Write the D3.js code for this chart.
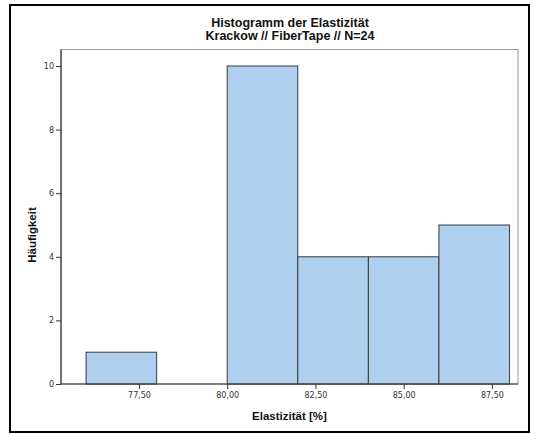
<!DOCTYPE html>
<html><head><meta charset="utf-8">
<script src="https://cdn.jsdelivr.net/npm/d3@7"></script>
<style>body{margin:0;background:#fff}</style>
</head><body>
<script>
const binStarts = [76, 78, 80, 82, 84, 86];
const binWidth = 2;
const counts = [1, 0, 10, 4, 4, 5];
const xTicks = [77.5, 80, 82.5, 85, 87.5];
const yTicks = [0, 2, 4, 6, 8, 10];
const titleLines = ["Histogramm der Elastizität", "Krackow // FiberTape // N=24"];
const xLabel = "Elastizität [%]";
const yLabel = "Häufigkeit";

const W = 539, H = 434;
const svg = d3.select("body").append("svg").attr("width", W).attr("height", H);
const font = "Liberation Sans, Arial, sans-serif";

// outer frame
svg.append("rect").attr("x", 10).attr("y", 5).attr("width", 519).attr("height", 427)
  .attr("fill", "none").attr("stroke", "#000").attr("stroke-width", 2);

const L = 61, R = 518, T = 49.5, B = 384;
const x = d3.scaleLinear().domain([75.29, 88.24]).range([L, R]);
const y = d3.scaleLinear().domain([0, 10]).range([B, 66]);

// plot box
svg.append("rect").attr("x", L).attr("y", T).attr("width", R - L).attr("height", B - T)
  .attr("fill", "#fff").attr("stroke", "#9a9a9a").attr("stroke-width", 1);

// bars
svg.append("g").selectAll("rect").data(binStarts.map((s, i) => ({s, c: counts[i]})).filter(d => d.c > 0))
  .join("rect")
  .attr("x", d => x(d.s)).attr("width", d => x(d.s + binWidth) - x(d.s))
  .attr("y", d => y(d.c)).attr("height", d => y(0) - y(d.c))
  .attr("fill", "#aecfee").attr("stroke", "#3a3a3a").attr("stroke-width", 1);

// axes
const fmt = d3.format(".2f");
const xAxis = svg.append("g").attr("transform", `translate(0,${B})`)
  .call(d3.axisBottom(x).tickValues(xTicks).tickSize(5).tickPadding(3)
    .tickFormat(d => fmt(d).replace(".", ",")));
const yAxis = svg.append("g").attr("transform", `translate(${L},0)`)
  .call(d3.axisLeft(y).tickValues(yTicks).tickSize(5).tickPadding(2));
[xAxis, yAxis].forEach(a => {
  a.select(".domain").attr("stroke", "#333").attr("stroke-width", 1.2);
  a.selectAll(".tick line").attr("stroke", "#333");
  a.selectAll(".tick text").attr("fill", "#333").attr("font-family", "DejaVu Sans, sans-serif").attr("font-size", 8);
});
xAxis.select(".domain").attr("d", `M${L},0H${R}`);
yAxis.select(".domain").attr("d", `M0,${B}V${T}`);

// titles
const t = svg.append("text").attr("x", 290).attr("y", 27).attr("text-anchor", "middle")
  .attr("font-family", font).attr("font-weight", "bold").attr("font-size", 12.5).attr("fill", "#111");
titleLines.forEach((l, i) => t.append("tspan").attr("x", 290).attr("dy", i ? 13 : 0).text(l));

svg.append("text").attr("x", (L + R) / 2).attr("y", 420).attr("text-anchor", "middle")
  .attr("font-family", font).attr("font-weight", "bold").attr("font-size", 11.5).attr("fill", "#111").text(xLabel);
svg.append("text").attr("transform", `translate(36,235) rotate(-90)`).attr("text-anchor", "middle")
  .attr("font-family", font).attr("font-weight", "bold").attr("font-size", 11.5).attr("fill", "#111").text(yLabel);
</script>
</body></html>
